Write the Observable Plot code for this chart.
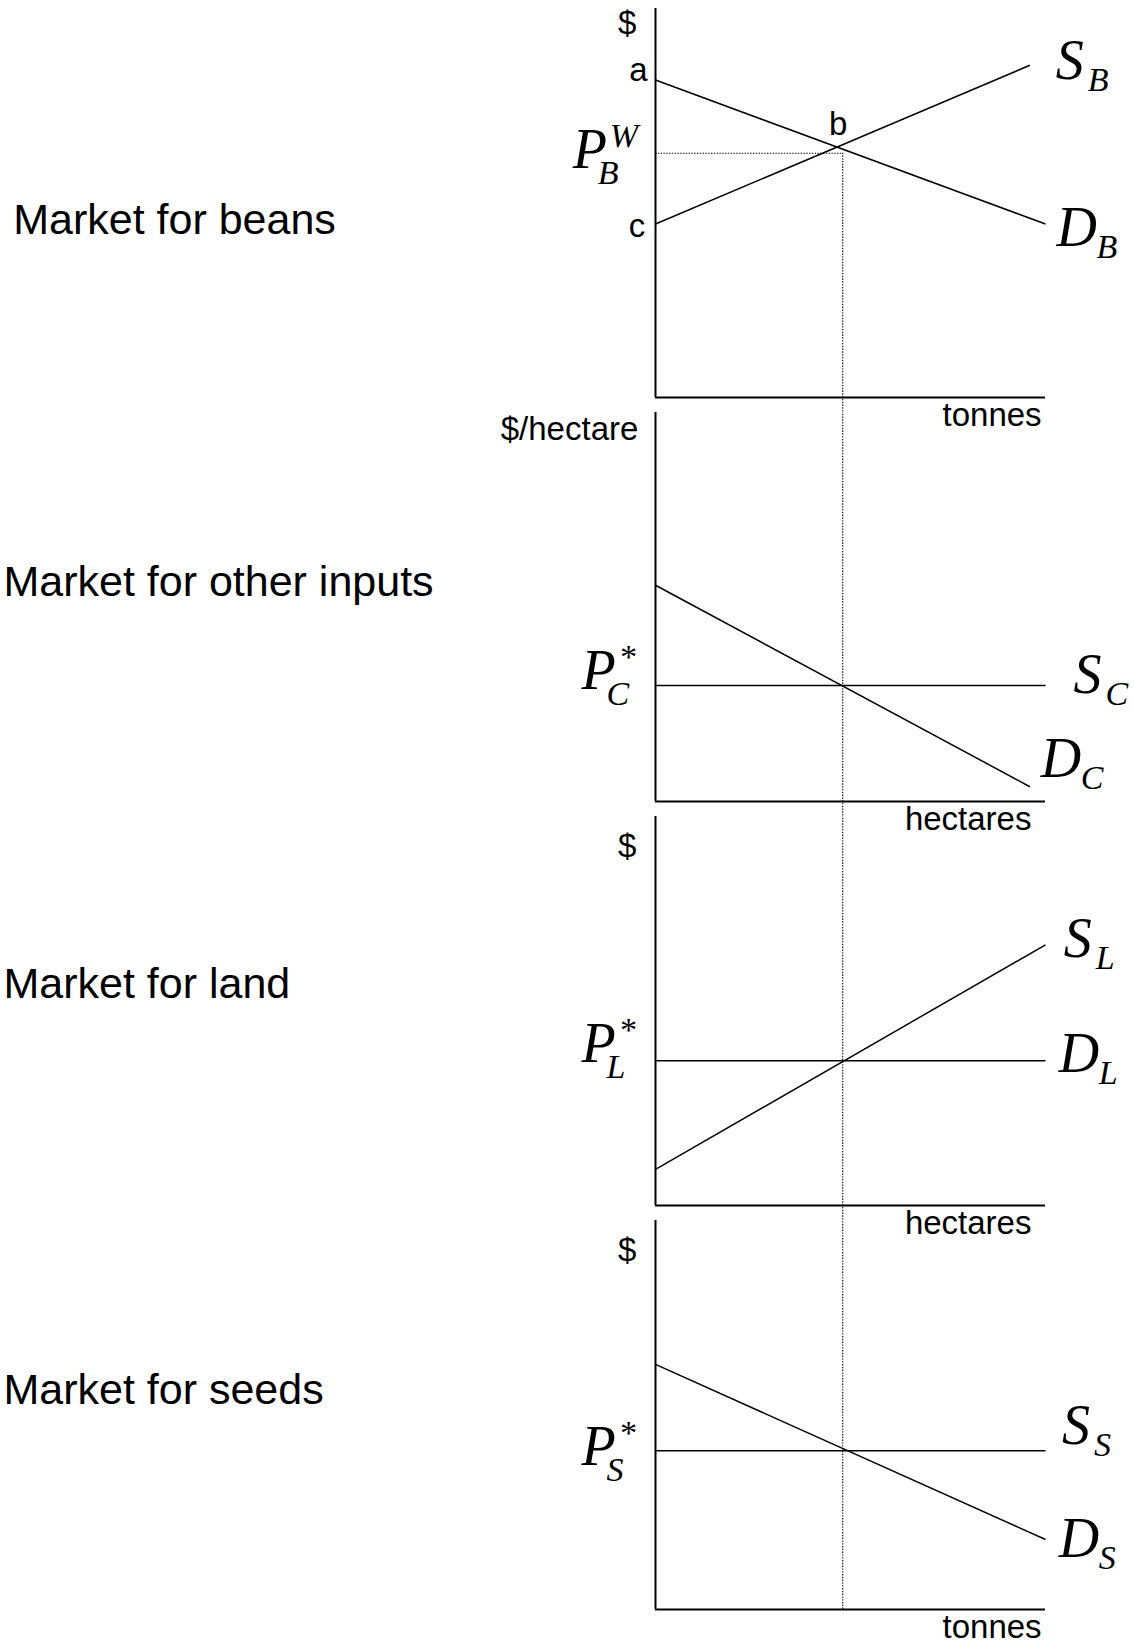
<!DOCTYPE html>
<html><head><meta charset="utf-8">
<script src="https://cdn.jsdelivr.net/npm/d3@7"></script>
<script src="https://cdn.jsdelivr.net/npm/@observablehq/plot@0.6"></script>
<style>body{margin:0;background:#fff}</style>
</head><body><div id="chart"></div>
<script>
// ---- panels ----
const markets = ["beans", "inputs", "land", "seeds"];
const marketTitles = ["Market for beans", "Market for other inputs", "Market for land", "Market for seeds"];
const titleX = [-16.47, -16.72, -16.72, -16.72];
const titleY = [4.56, 5.64, 5.69, 5.63];
const priceUnits = ["$", "$/hectare", "$", "$"];
const priceUnitX = [-0.49, -0.44, -0.49, -0.49];
const priceUnitY = [9.61, 9.57, 9.24, 9.24];
const quantityUnits = ["tonnes", "hectares", "hectares", "tonnes"];
const quantityUnitX = [9.9, 9.64, 9.64, 9.9];

// ---- supply & demand curves (straight lines) ----
const curveMarket = ["beans", "beans", "inputs", "inputs", "land", "land", "seeds", "seeds"];
const curveX1 = [0, 0, 0, 0, 0, 0, 0, 0];
const curveY1 = [4.46, 8.16, 2.98, 5.56, 0.93, 3.72, 4.08, 6.30];
const curveX2 = [9.6, 10, 10, 9.6, 10, 10, 10, 10];
const curveY2 = [8.54, 4.46, 2.98, 0.38, 6.70, 3.72, 4.08, 1.80];

// ---- equilibrium ----
const equilibriumQ = 4.8;
const worldPrice = 6.28;

// ---- point letters (beans panel) ----
const pointLetters = ["a", "b", "c"];
const pointX = [-0.2, 4.92, -0.26];
const pointY = [8.4, 7.03, 4.39];

// ---- curve / price labels ----
const labelMarket = ["beans", "beans", "beans", "inputs", "inputs", "inputs", "land", "land", "land", "seeds", "seeds", "seeds"];
const labelMain = ["S", "D", "P", "S", "D", "P", "S", "D", "P", "S", "D", "P"];
const labelSub = ["B", "B", "B", "C", "C", "C", "L", "L", "L", "S", "S", "S"];
const labelSup = ["", "", "W", "", "", "*", "", "", "*", "", "", "*"];
const labelX = [10.26, 10.28, -2.12, 10.72, 9.88, -1.9, 10.47, 10.34, -1.9, 10.42, 10.34, -1.9];
const labelY = [8.19, 3.89, 5.89, 2.78, 0.62, 2.88, 6.39, 3.43, 3.69, 4.26, 1.34, 3.72];

// ---- build tables ----
const panels = markets.map((m, i) => ({market: m, title: marketTitles[i], tx: titleX[i], ty: titleY[i],
  price: priceUnits[i], px: priceUnitX[i], py: priceUnitY[i], qty: quantityUnits[i], qx: quantityUnitX[i]}));
const curves = curveMarket.map((m, i) => ({market: m, x1: curveX1[i], y1: curveY1[i], x2: curveX2[i], y2: curveY2[i]}));
const points = pointLetters.map((t, i) => ({market: "beans", text: t, x: pointX[i], y: pointY[i]}));
const labels = labelMarket.map((m, i) => ({market: m, main: labelMain[i], sub: labelSub[i], sup: labelSup[i], x: labelX[i], y: labelY[i]}));

const padInner = 0.036;
const gapUnits = padInner / (1 - padInner) * 10;
const drops = markets.map((m, i) => ({market: m, q: equilibriumQ,
  top: i === 0 ? worldPrice : 10, bottom: i === markets.length - 1 ? 0 : -gapUnits}));
const worldLine = [{market: "beans", y: worldPrice, x1: 0, x2: equilibriumQ}];

const sans = "'Liberation Sans', Arial, Helvetica, sans-serif";
const serif = "'Liberation Serif', 'Times New Roman', Times, serif";
const mainSize = 56, subSize = 34;
const italic = {fontFamily: serif, fontStyle: "italic", fill: "#000", textAnchor: "start", lineAnchor: "bottom"};
const dotted = {stroke: "#000", strokeWidth: 1.1, strokeDasharray: "1.4,1.4"};

const chart = Plot.plot({
  width: 1134, height: 1643,
  marginLeft: 655, marginRight: 89, marginTop: 8, marginBottom: 33,
  x: {domain: [0, 10], axis: null},
  y: {domain: [0, 10], axis: null},
  fy: {domain: markets, axis: null, paddingInner: padInner, paddingOuter: 0},
  style: {fontFamily: sans, background: "#fff", color: "#000", overflow: "visible"},
  marks: [
    Plot.ruleX(drops, {x: "q", y1: "bottom", y2: "top", fy: "market", ...dotted}),
    Plot.ruleY(worldLine, {y: "y", x1: "x1", x2: "x2", fy: "market", ...dotted}),
    Plot.ruleX(panels, {x: 0, y1: 0, y2: 10, fy: "market", stroke: "#000", strokeWidth: 2}),
    Plot.ruleY(panels, {y: 0, x1: 0, x2: 10, fy: "market", stroke: "#000", strokeWidth: 2}),
    Plot.link(curves, {x1: "x1", y1: "y1", x2: "x2", y2: "y2", fy: "market", stroke: "#000", strokeWidth: 1.5}),
    Plot.text(panels, {x: "tx", y: "ty", text: "title", fy: "market", textAnchor: "start", fontSize: 43, fill: "#000"}),
    Plot.text(panels, {x: "px", y: "py", text: "price", fy: "market", textAnchor: "end", fontSize: 33, fill: "#000"}),
    Plot.text(panels, {x: "qx", y: 0, dy: 18, text: "qty", fy: "market", textAnchor: "end", fontSize: 33, fill: "#000"}),
    Plot.text(points, {x: "x", y: "y", text: "text", fy: "market", textAnchor: "end", fontSize: 33, fill: "#000"}),
    Plot.text(labels, {x: "x", y: "y", text: "main", fy: "market", fontSize: mainSize, ...italic}),
    Plot.text(labels.filter(d => d.main === "S"), {x: "x", y: "y", text: "sub", fy: "market", dx: 32, dy: 12, fontSize: subSize, ...italic}),
    Plot.text(labels.filter(d => d.main === "D"), {x: "x", y: "y", text: "sub", fy: "market", dx: 40, dy: 12, fontSize: subSize, ...italic}),
    Plot.text(labels.filter(d => d.main === "P"), {x: "x", y: "y", text: "sub", fy: "market", dx: 25, dy: 16, fontSize: subSize, ...italic}),
    Plot.text(labels.filter(d => d.sup), {x: "x", y: "y", text: "sup", fy: "market", dx: 37, dy: -21, fontSize: subSize, ...italic})
  ]
});
document.getElementById("chart").appendChild(chart);
</script>
</body></html>
